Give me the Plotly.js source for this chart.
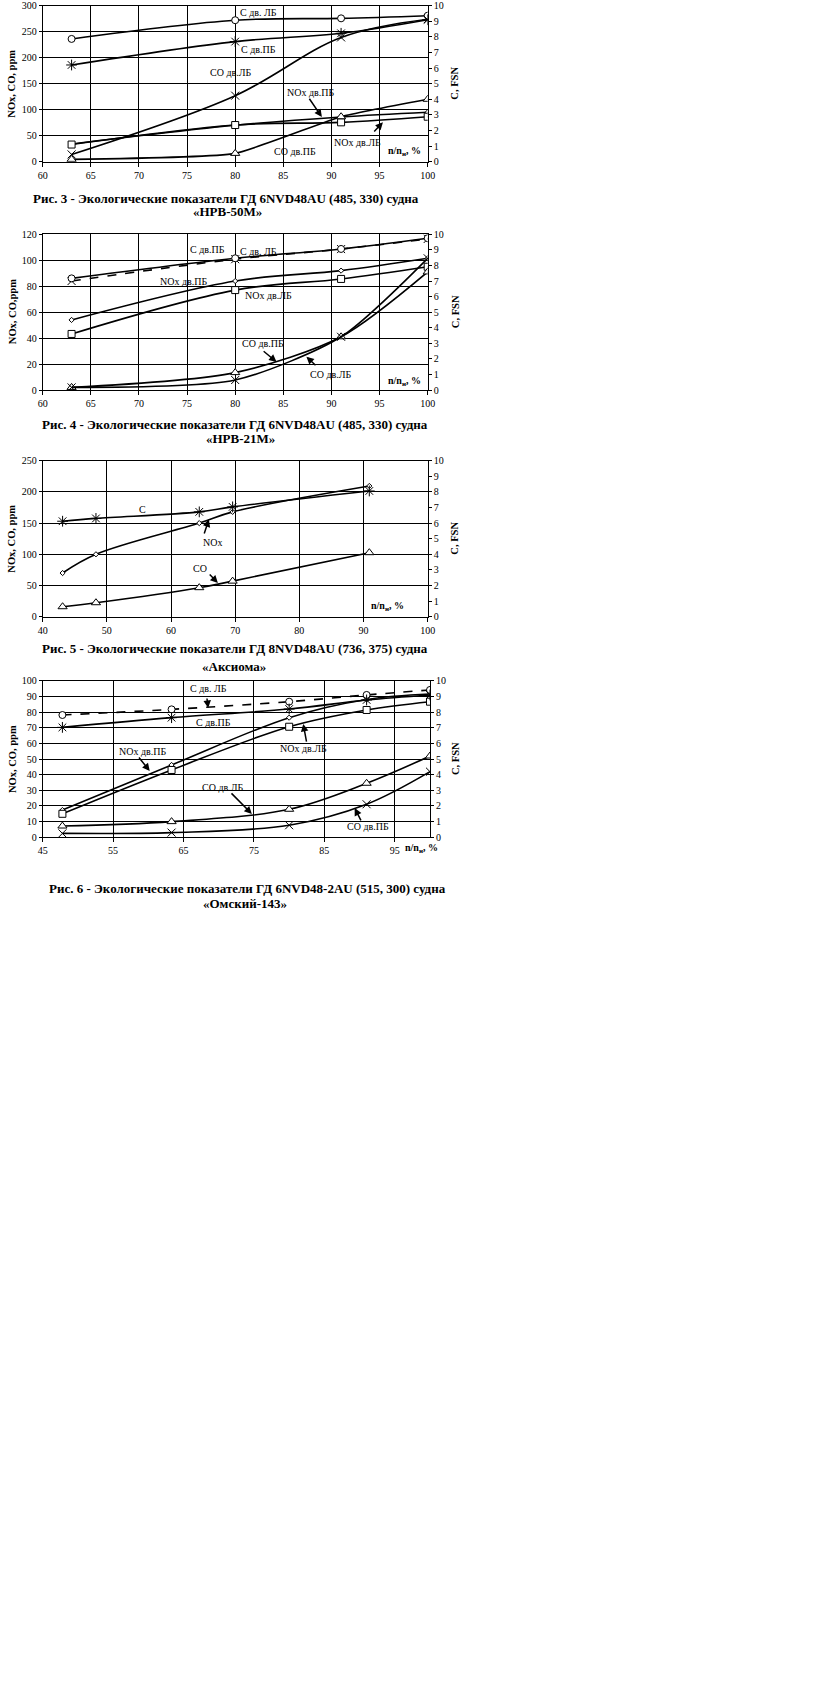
<!DOCTYPE html>
<html><head><meta charset="utf-8">
<script src="https://cdn.plot.ly/plotly-3.0.1.min.js"></script>
<style>html,body{margin:0;padding:0;background:#fff;overflow:hidden}#chart{width:813px;height:1685px}</style>
</head><body><div id="chart"></div>
<script>
// ---------- Рис. 3 ----------
const f3_load   = [63, 80, 91, 100];
const f3_C_LB   = [7.87, 9.07, 9.19, 9.36];
const f3_C_PB   = [6.2, 7.7, 8.23, 9.1];
const f3_CO_LB  = [14, 127, 239, 274];
const f3_NOx_PB = [34, 70, 86, 95];
const f3_NOx_LB = [33, 70.5, 75.7, 86.5];
const f3_CO_PB  = [4.5, 16, 86.5, 120];
// ---------- Рис. 4 ----------
const f4_load   = [63, 80, 91, 100];
const f4_C_PB   = [7.0, 8.4, 9.05, 9.7];
const f4_C_LB   = [7.17, 8.46, 9.06, 9.75];
const f4_NOx_PB = [54, 84, 92, 101.5];
const f4_NOx_LB = [43.2, 77, 85.6, 95];
const f4_CO_PB  = [2, 13.4, 41, 91];
const f4_CO_LB  = [2, 7.7, 41, 101.5];
// ---------- Рис. 5 ----------
const f5_load = [43.1, 48.3, 64.4, 69.6, 90.9];
const f5_C    = [6.12, 6.3, 6.72, 7.04, 8.06];
const f5_NOx  = [70, 100, 150, 168, 209.5];
const f5_CO   = [16, 22.4, 46.5, 57, 102.6];
// ---------- Рис. 6 ----------
const f6_load   = [47.8, 63.3, 80, 91, 100];
const f6_C_LB   = [7.81, 8.17, 8.66, 9.09, 9.41];
const f6_C_PB   = [7.02, 7.64, 8.19, 8.77, 9.09];
const f6_NOx_PB = [17.4, 46.2, 76.4, 88, 91.5];
const f6_NOx_LB = [15, 43, 70.6, 81.3, 86.6];
const f6_CO_LB  = [7.2, 10, 17.9, 34.5, 51.9];
const f6_CO_PB  = [2.5, 3, 7.7, 21.1, 41.9];

const captions = [
  ["Рис. 3 - Экологические показатели ГД 6NVD48AU (485, 330) судна", "«НРВ-50М»"],
  ["Рис. 4 - Экологические показатели ГД 6NVD48AU (485, 330) судна", "«НРВ-21М»"],
  ["Рис. 5 - Экологические показатели ГД 8NVD48AU (736, 375) судна", "«Аксиома»"],
  ["Рис. 6 - Экологические показатели ГД 6NVD48-2AU (515, 300) судна", "«Омский-143»"]
];

const W = 813, H = 1685;
const FONT = 'Liberation Serif, Times New Roman, serif';
const px = x => x / W, py = y => 1 - y / H;

// plot areas in pixels [left, right, top, bottom]
const boxes = [
  [42.7, 427.7, 5.7, 161.7],
  [42.7, 427.7, 234.3, 390],
  [42.7, 427.7, 460.7, 616.7],
  [42.7, 430, 680.7, 837.3]
];

function xn(k){ return k===1 ? 'x' : 'x'+k; }
function yl(k){ const n = 2*k-1; return n===1 ? 'y' : 'y'+n; }
function yr(k){ return 'y'+(2*k); }

const SYM = {
  circle: {symbol:'circle', size:7, color:'white', line:{color:'black', width:1}},
  square: {symbol:'square', size:7, color:'white', line:{color:'black', width:1}},
  tri: {symbol:'triangle-up', size:8, color:'white', line:{color:'black', width:1}},
  dia: {symbol:'diamond', size:4, color:'white', line:{color:'black', width:1}},
  star: {symbol:'asterisk-open', size:9, color:'black', line:{color:'black', width:1}},
  cross: {symbol:'x-thin-open', size:8, color:'black', line:{color:'black', width:1}}
};

function tr(k, x, y, sym, right, dash, smooth){
  return {x:x, y:y, type:'scatter', mode:'lines+markers',
    xaxis:xn(k), yaxis: right ? yr(k) : yl(k),
    line:{color:'black', width:1.6, shape:'spline', smoothing: smooth===undefined ? 1 : smooth, dash: dash||'solid'},
    marker:SYM[sym], showlegend:false, hoverinfo:'skip'};
}

const data = [
  tr(1, f3_load, f3_C_LB, 'circle', true),
  tr(1, f3_load, f3_C_PB, 'star', true),
  tr(1, f3_load, f3_CO_LB, 'cross', false),
  tr(1, f3_load, f3_NOx_PB, 'dia', false),
  tr(1, f3_load, f3_NOx_LB, 'square', false),
  tr(1, f3_load, f3_CO_PB, 'tri', false, null, 0.45),

  tr(2, f4_load, f4_C_PB, 'cross', true, 'dash'),
  tr(2, f4_load, f4_C_LB, 'circle', true),
  tr(2, f4_load, f4_NOx_PB, 'dia', false),
  tr(2, f4_load, f4_NOx_LB, 'square', false),
  tr(2, f4_load, f4_CO_PB, 'tri', false, null, 0.8),
  tr(2, f4_load, f4_CO_LB, 'cross', false, null, 0.7),

  tr(3, f5_load, f5_C, 'star', true),
  tr(3, f5_load, f5_NOx, 'dia', false),
  tr(3, f5_load, f5_CO, 'tri', false),

  tr(4, f6_load, f6_C_LB, 'circle', true, 'dash'),
  tr(4, f6_load, f6_C_PB, 'star', true),
  tr(4, f6_load, f6_NOx_PB, 'dia', false),
  tr(4, f6_load, f6_NOx_LB, 'square', false),
  tr(4, f6_load, f6_CO_LB, 'tri', false),
  tr(4, f6_load, f6_CO_PB, 'cross', false)
];

const tickfont = {family:FONT, size:10, color:'black'};
const layout = {
  width:W, height:H, margin:{l:0,r:0,t:0,b:0},
  paper_bgcolor:'white', plot_bgcolor:'white', showlegend:false,
  font:{family:FONT, color:'black'}, annotations:[]
};

const axcfg = [
  {xr:[60,100], xd:5, x0:60, yr:[0,300], yd:50},
  {xr:[60,100], xd:5, x0:60, yr:[0,120], yd:20},
  {xr:[40,100], xd:10, x0:40, yr:[0,250], yd:50},
  {xr:[45,100], xd:10, x0:45, yr:[0,100], yd:10}
];

axcfg.forEach((c, i) => {
  const k = i+1, b = boxes[i];
  const xk = k===1 ? 'xaxis' : 'xaxis'+k;
  const ylk = (2*k-1)===1 ? 'yaxis' : 'yaxis'+(2*k-1);
  const yrk = 'yaxis'+(2*k);
  layout[xk] = {domain:[px(b[0]), px(b[1])], range:c.xr, tickmode:'linear', tick0:c.x0, dtick:c.xd,
    anchor:yl(k), showgrid:true, gridcolor:'black', gridwidth:1, showline:true, linecolor:'black',
    linewidth:1, mirror:true, ticks:'outside', ticklen:4, tickcolor:'black', zeroline:false,
    tickfont:tickfont, fixedrange:true};
  layout[ylk] = {domain:[py(b[3]), py(b[2])], range:c.yr, tickmode:'linear', tick0:0, dtick:c.yd,
    anchor:xn(k), showgrid:true, gridcolor:'black', gridwidth:1, showline:true, linecolor:'black',
    linewidth:1, ticks:'outside', ticklen:3, tickcolor:'black', zeroline:false, tickfont:tickfont, fixedrange:true};
  layout[yrk] = {overlaying:yl(k), side:'right', anchor:xn(k), range:[0,10], tickmode:'linear', tick0:0, dtick:1,
    showgrid:false, showline:true, linecolor:'black', linewidth:1, ticks:'outside', ticklen:3,
    tickcolor:'black', zeroline:false, tickfont:tickfont, fixedrange:true};
});

const ann = layout.annotations;
function txt(k, x, y, t, bold){
  ann.push({xref:xn(k), yref:yl(k), x:x, y:y, text: bold ? '<b>'+t+'</b>' : t, showarrow:false,
    font:{family:FONT, size:10, color:'black'}});
}
function arr(k, hx, hy, tx, ty){
  ann.push({xref:xn(k), yref:yl(k), x:hx, y:hy, axref:xn(k), ayref:yl(k), ax:tx, ay:ty, text:'',
    showarrow:true, arrowhead:2, arrowsize:1, arrowwidth:1.5, arrowcolor:'black', standoff:0, startstandoff:0});
}
function ptxt(x, y, t, size, bold, angle){
  ann.push({xref:'paper', yref:'paper', x:px(x), y:py(y), text: bold ? '<b>'+t+'</b>' : t, showarrow:false,
    textangle: angle||0, xanchor:'center', yanchor:'middle', font:{family:FONT, size:size, color:'black'}});
}
const NN = 'n/n<sub>н</sub>, %';

// chart 1
txt(1, 82.4, 286, 'С дв. ЛБ');
txt(1, 82.4, 215, 'С дв.ПБ');
txt(1, 79.5, 171, 'СО дв.ЛБ');
txt(1, 87.8, 134, 'NOx дв.ПБ');
arr(1, 89.0, 86, 87.6, 124);
txt(1, 92.7, 36, 'NOx дв.ЛБ');
arr(1, 95.35, 76, 94.3, 55);
txt(1, 86.2, 18.7, 'СО дв.ПБ');
txt(1, 97.6, 18.7, NN, true);
// chart 2
txt(2, 77.1, 108, 'С дв.ПБ');
txt(2, 82.4, 106.4, 'С дв. ЛБ');
txt(2, 74.6, 84, 'NOx дв.ПБ');
txt(2, 83.5, 73.2, 'NOx дв.ЛБ');
txt(2, 82.9, 35.5, 'СО дв.ПБ');
arr(2, 84.3, 21.6, 82.8, 30.8);
txt(2, 89.9, 11.6, 'СО дв.ЛБ');
arr(2, 87.4, 25.7, 88.5, 18);
txt(2, 97.6, 6.2, NN, true);
// chart 3
txt(3, 55.5, 172.6, 'C');
txt(3, 66.4, 119.7, 'NOx');
arr(3, 65.9, 156, 65.1, 131);
txt(3, 64.5, 78, 'CO');
arr(3, 67.3, 54, 65.8, 70);
txt(3, 93.7, 17, NN, true);
// chart 4
txt(4, 68.6, 95.3, 'С дв. ЛБ');
arr(4, 68.5, 82.6, 68.3, 89.6);
txt(4, 69.3, 73, 'С дв.ПБ');
txt(4, 59.2, 55.1, 'NOx дв.ПБ');
arr(4, 60.2, 42.3, 58.5, 51.9);
txt(4, 82, 56.4, 'NOx дв.ЛБ');
arr(4, 82, 72.4, 82.5, 60.2);
txt(4, 70.5, 32.1, 'СО дв.ЛБ');
arr(4, 74.7, 14.9, 71.6, 29);
txt(4, 91.2, 6.6, 'СО дв.ПБ');
arr(4, 89.3, 18.7, 90.3, 9.8);
ptxt(422, 848, NN, 10, true);

// axis titles
const leftTitles = ['NOx, CO, ppm', 'NOx, CO,ppm', 'NOx, CO, ppm', 'NOx, CO, ppm'];
boxes.forEach((b, i) => {
  const cy = (b[2]+b[3])/2;
  ptxt(12, cy, leftTitles[i], 10.5, true, -90);
  ptxt(455, cy, 'C, FSN', 10.5, true, -90);
});

// captions
const capPos = [[226,198,228,212],[235,424,240,438],[235,648,234,666],[247,888,245,903]];
captions.forEach((c, i) => {
  const p = capPos[i];
  ptxt(p[0], p[1], c[0], 13, true);
  ptxt(p[2], p[3], c[1], 13, true);
});

Plotly.newPlot('chart', data, layout, {staticPlot:true, displayModeBar:false});
</script>
</body></html>
